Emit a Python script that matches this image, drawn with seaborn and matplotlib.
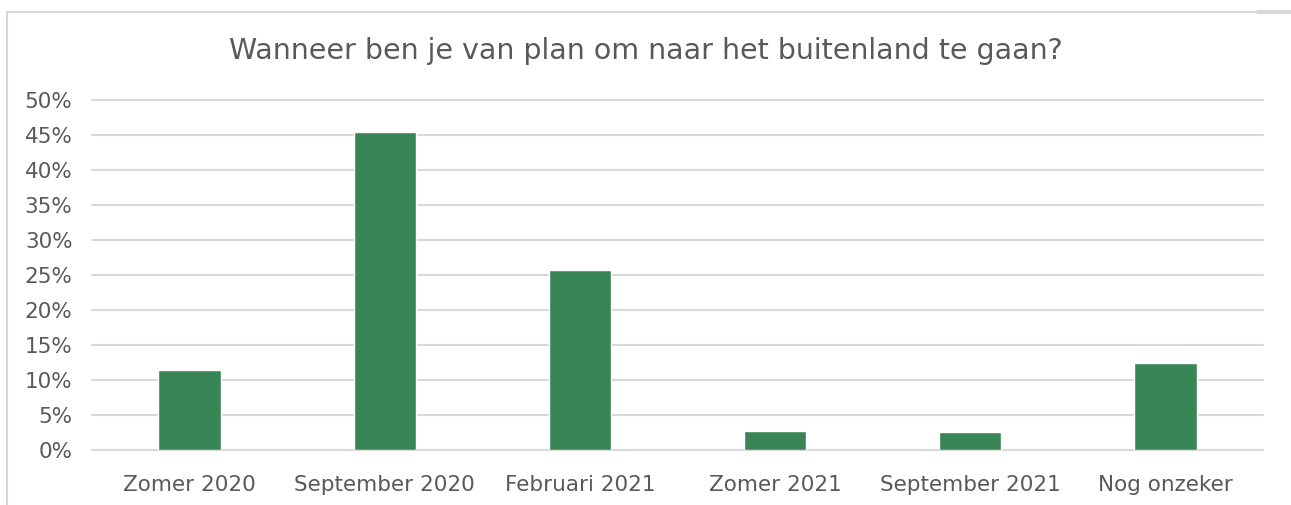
import pandas as pd
import seaborn as sns
import matplotlib.pyplot as plt
from matplotlib.patches import Rectangle
from matplotlib.lines import Line2D
from matplotlib.ticker import PercentFormatter

categorieen = ["Zomer 2020", "September 2020", "Februari 2021",
               "Zomer 2021", "September 2021", "Nog onzeker"]
percentages = [11.5, 45.4, 25.7, 2.7, 2.6, 12.4]
titel = "Wanneer ben je van plan om naar het buitenland te gaan?"

GROEN = "#3A8555"
GRIJS = "#595959"
LIJN = "#D9D9D9"

df = pd.DataFrame({"periode": categorieen, "pct": percentages})

sns.set_theme(style="white")
plt.rcParams["font.family"] = ["DejaVu Sans"]

fig = plt.figure(figsize=(12.91, 5.05), dpi=100)
ax = fig.add_axes([92 / 1291, 55 / 505, (1263 - 92) / 1291, 350 / 505])

sns.barplot(data=df, x="periode", y="pct", color=GROEN, width=0.32,
            saturation=1, ax=ax, zorder=3)

ax.set_ylim(0, 50)
ax.set_yticks(range(0, 51, 5))
ax.yaxis.set_major_formatter(PercentFormatter(decimals=0))
ax.grid(axis="y", color=LIJN, linewidth=1.5, zorder=0)
for gl in ax.get_ygridlines():
    gl.set_clip_on(False)
ax.set_axisbelow(True)
for s in ax.spines.values():
    s.set_visible(False)
ax.set_xlabel("")
ax.set_ylabel("")
ax.tick_params(axis="both", length=0, colors=GRIJS, labelsize=15.5)
ax.tick_params(axis="y", pad=14)
ax.tick_params(axis="x", pad=18)

fig.text(0.5, 1 - 51 / 505, titel, ha="center", va="center",
         fontsize=20.5, color=GRIJS)

# kader rond de grafiek
fig.add_artist(Rectangle((7 / 1291, -0.1), 1.2, 1 - 12 / 505 + 0.1,
                         transform=fig.transFigure, fill=False,
                         edgecolor=LIJN, linewidth=1.5))
fig.add_artist(Line2D([1258 / 1291, 1.0], [1 - 12 / 505, 1 - 12 / 505],
                      transform=fig.transFigure, color=LIJN, linewidth=3))

fig.savefig("out.png", dpi=100)
